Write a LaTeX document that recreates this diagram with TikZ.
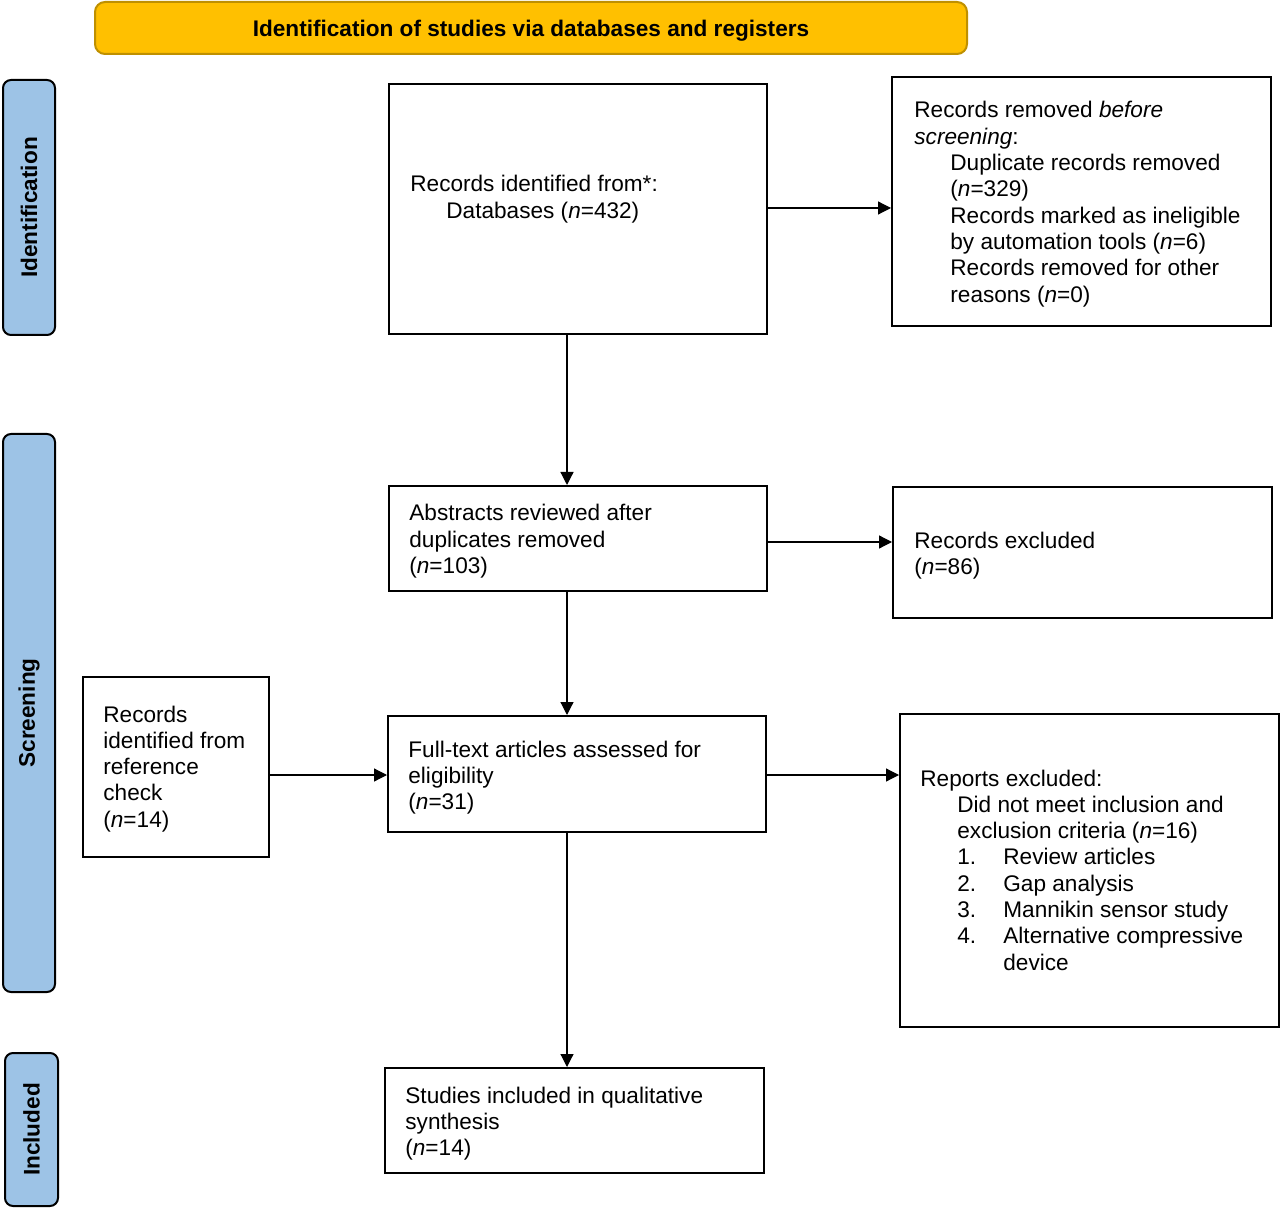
\documentclass[tikz,border=0pt]{standalone}
\usepackage{fontspec}
\setmainfont{Liberation Sans}
\usetikzlibrary{arrows.meta,calc}
\definecolor{gold}{HTML}{FFC000}
\definecolor{golddark}{HTML}{BF9000}
\definecolor{barblue}{HTML}{9DC3E6}
\tikzset{
  box/.style={draw=black, line width=1pt, inner sep=0pt},
  bar/.style={draw=black, line width=1pt, fill=barblue, rounded corners=4pt, inner sep=0pt},
  bartext/.style={font=\fontsize{11.3}{13.15}\selectfont\bfseries, rotate=90},
  txt/.style={anchor=base west, align=left, inner sep=0pt, font=\fontsize{11.3}{13.15}\selectfont},
  arr/.style={line width=0.6pt, -{Triangle[length=6.5pt,width=6.5pt]}},
}
\begin{document}
\begin{tikzpicture}[x=0.5pt,y=-0.5pt]
\useasboundingbox (0,0) rectangle (1280,1208);
% header
\node[draw=golddark, line width=1pt, fill=gold, rounded corners=5pt, minimum width=436pt, minimum height=26pt, text depth=0pt, font=\fontsize{11.3}{13.15}\selectfont\bfseries] (head) at (531,28) {Identification of studies via databases and registers};
% side bars
\node[bar, minimum width=26pt, minimum height=127.5pt] (barid) at (29,207.5) {};
\node[bartext] (lid) at (barid.center) {Identification};
\node[bar, minimum width=26pt, minimum height=279pt] (barsc) at (29,713) {};
\node[bartext] (lsc) at (barsc.center) {Screening};
\node[bar, minimum width=26.5pt, minimum height=76.5pt] (barin) at (31.5,1129.5) {};
\node[bartext] (lin) at (barin.center) {Included};
% boxes (text nodes anchored at the baseline of their last line)
\node[box, minimum width=189pt, minimum height=125pt] (ident) at (578,209) {};
\node[txt] (tident) at (410,218.3) {Records identified from*:\\\hspace*{18pt}Databases (\textit{n}=432)};
\node[box, minimum width=189.5pt, minimum height=124.5pt] (remov) at (1081.5,201.5) {};
\node[txt] (tremov) at (914,302.1) {Records removed \textit{before}\\\textit{screening}:\\
\hspace*{18pt}Duplicate records removed\\\hspace*{18pt}(\textit{n}=329)\\
\hspace*{18pt}Records marked as ineligible\\\hspace*{18pt}by automation tools (\textit{n}=6)\\
\hspace*{18pt}Records removed for other\\\hspace*{18pt}reasons (\textit{n}=0)};
\node[box, minimum width=189pt, minimum height=52.5pt] (abstr) at (578,538.5) {};
\node[txt] (tabstr) at (409,573.6) {Abstracts reviewed after\\duplicates removed\\(\textit{n}=103)};
\node[box, minimum width=189.5pt, minimum height=65.5pt] (excl) at (1082.5,552.5) {};
\node[txt] (texcl) at (914,574.3) {Records excluded\\(\textit{n}=86)};
\node[box, minimum width=189pt, minimum height=58pt] (full) at (577,774) {};
\node[txt] (tfull) at (408,809.6) {Full-text articles assessed for\\eligibility\\(\textit{n}=31)};
\node[box, minimum width=93pt, minimum height=90pt] (refc) at (176,767) {};
\node[txt] (trefc) at (103,827.2) {Records\\identified from\\reference\\check\\(\textit{n}=14)};
\node[box, minimum width=189.5pt, minimum height=156.5pt] (repex) at (1089.5,870.5) {};
\node[txt] (trepex) at (920,970.1) {Reports excluded:\\
\hspace*{18.5pt}Did not meet inclusion and\\
\hspace*{18.5pt}exclusion criteria (\textit{n}=16)\\
\hspace*{18.5pt}\makebox[23pt][l]{1.}Review articles\\
\hspace*{18.5pt}\makebox[23pt][l]{2.}Gap analysis\\
\hspace*{18.5pt}\makebox[23pt][l]{3.}Mannikin sensor study\\
\hspace*{18.5pt}\makebox[23pt][l]{4.}Alternative compressive\\
\hspace*{41.5pt}device};
\node[box, minimum width=189.5pt, minimum height=52.5pt] (incl) at (574.5,1120.5) {};
\node[txt] (tincl) at (405,1155.6) {Studies included in qualitative\\synthesis\\(\textit{n}=14)};
% connectors
\coordinate (vx) at (567,0);
\coordinate (y1) at (0,208);
\coordinate (y2) at (0,542);
\coordinate (y3) at (0,775);
\draw[arr] (ident.south -| vx) -- (abstr.north -| vx);
\draw[arr] (abstr.south -| vx) -- (full.north -| vx);
\draw[arr] (full.south -| vx) -- (incl.north -| vx);
\draw[arr] (ident.east |- y1) -- (remov.west |- y1);
\draw[arr] (abstr.east |- y2) -- (excl.west |- y2);
\draw[arr] (refc.east |- y3) -- (full.west |- y3);
\draw[arr] (full.east |- y3) -- (repex.west |- y3);
\end{tikzpicture}
\end{document}
